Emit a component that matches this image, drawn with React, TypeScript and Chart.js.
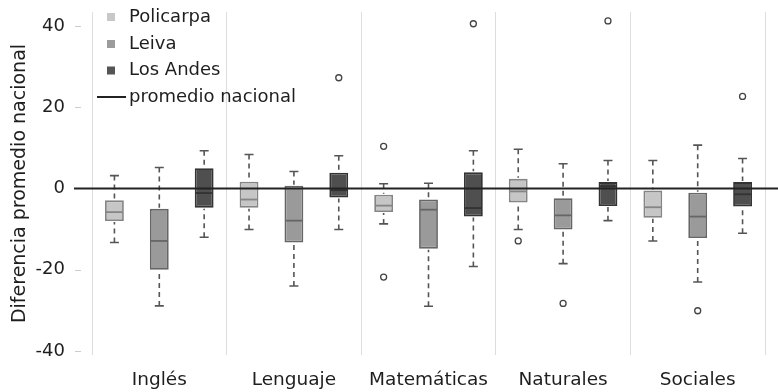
import React, { useEffect, useRef } from 'react';
import { Chart, registerables } from 'chart.js';
Chart.register(...registerables);

const categories = ['Inglés', 'Lenguaje', 'Matemáticas', 'Naturales', 'Sociales'];
const schools = ['Policarpa', 'Leiva', 'Los Andes'];
const yTickValues = [-40, -20, 0, 20, 40];

// Policarpa
const policarpaLow = [-13.3, -10.1, -8.7, -10.1, -12.9];
const policarpaQ1 = [-8.0, -4.7, -5.8, -3.4, -7.2];
const policarpaMedian = [-5.8, -2.7, -4.2, -0.7, -4.6];
const policarpaQ3 = [-2.9, 1.7, -1.5, 2.4, -0.5];
const policarpaHigh = [3.2, 8.4, 1.2, 9.7, 6.9];
const policarpaOutliers = [[], [], [10.4, -21.8], [-12.9], []];

// Leiva
const leivaLow = [-28.9, -24.0, -29.0, -18.5, -23.0];
const leivaQ1 = [-20.0, -13.3, -14.8, -10.1, -12.2];
const leivaMedian = [-12.9, -7.9, -5.2, -6.6, -6.9];
const leivaQ3 = [-5.0, 0.7, -2.7, -2.4, -1.0];
const leivaHigh = [5.2, 4.2, 1.3, 6.1, 10.7];
const leivaOutliers = [[], [], [], [-28.3], [-30.1]];

// Los Andes
const andesLow = [-12.0, -10.1, -19.2, -7.9, -11.0];
const andesQ1 = [-4.7, -2.2, -6.9, -4.3, -4.4];
const andesMedian = [-1.1, -0.4, -4.8, 0.6, -1.4];
const andesQ3 = [5.0, 3.9, 4.0, 1.6, 1.6];
const andesHigh = [9.3, 8.1, 9.3, 6.9, 7.4];
const andesOutliers = [[], [27.3], [40.6], [41.3], [22.7]];

const nationalAverage = 0;
const nationalLabel = 'promedio nacional';

const fills = ['#c6c6c6', '#9a9a9a', '#4f4f4f'];
const borders = ['#858585', '#666666', '#333333'];
const swatches = ['#c8c8c8', '#9c9c9c', '#555555'];

const stats = [
  { low: policarpaLow, q1: policarpaQ1, med: policarpaMedian, q3: policarpaQ3, high: policarpaHigh, out: policarpaOutliers },
  { low: leivaLow, q1: leivaQ1, med: leivaMedian, q3: leivaQ3, high: leivaHigh, out: leivaOutliers },
  { low: andesLow, q1: andesQ1, med: andesMedian, q3: andesQ3, high: andesHigh, out: andesOutliers },
];

const FONT = '"DejaVu Sans", sans-serif';
const TEXT = '#1e1e1e';

const boxPlugin = {
  id: 'boxExtras',
  afterDatasetsDraw(chart: any) {
    const ctx = chart.ctx;
    const y = chart.scales.y;
    const area = chart.chartArea;
    ctx.save();
    stats.forEach((s, i) => {
      const meta = chart.getDatasetMeta(i);
      meta.data.forEach((el: any, j: number) => {
        const p = el.getProps(['x', 'width'], true);
        const x = p.x;
        const half = p.width / 2;
        const yq1 = y.getPixelForValue(s.q1[j]);
        const yq3 = y.getPixelForValue(s.q3[j]);
        const ylo = y.getPixelForValue(s.low[j]);
        const yhi = y.getPixelForValue(s.high[j]);
        const ymed = y.getPixelForValue(s.med[j]);
        ctx.strokeStyle = '#555555';
        ctx.lineWidth = 1.6;
        ctx.setLineDash([5, 4]);
        ctx.beginPath();
        ctx.moveTo(x, yhi);
        ctx.lineTo(x, yq3 - 1);
        ctx.moveTo(x, ylo);
        ctx.lineTo(x, yq1 + 1);
        ctx.stroke();
        ctx.setLineDash([]);
        ctx.lineWidth = 1.6;
        ctx.beginPath();
        ctx.moveTo(x - 4.5, yhi);
        ctx.lineTo(x + 4.5, yhi);
        ctx.moveTo(x - 4.5, ylo);
        ctx.lineTo(x + 4.5, ylo);
        ctx.stroke();
        ctx.strokeStyle = borders[i];
        ctx.lineWidth = 1.8;
        ctx.beginPath();
        ctx.moveTo(x - half + 1, ymed);
        ctx.lineTo(x + half - 1, ymed);
        ctx.stroke();
        ctx.strokeStyle = '#444444';
        ctx.lineWidth = 1.3;
        s.out[j].forEach((v: number) => {
          ctx.beginPath();
          ctx.arc(x, y.getPixelForValue(v), 3, 0, Math.PI * 2);
          ctx.stroke();
        });
      });
    });
    const y0 = y.getPixelForValue(nationalAverage);
    ctx.strokeStyle = '#222222';
    ctx.lineWidth = 2;
    ctx.beginPath();
    ctx.moveTo(area.left - 18, y0);
    ctx.lineTo(chart.width, y0);
    ctx.stroke();
    ctx.restore();
  },
  afterDraw(chart: any) {
    const ctx = chart.ctx;
    const y = chart.scales.y;
    const area = chart.chartArea;
    ctx.save();
    ctx.strokeStyle = '#cccccc';
    ctx.lineWidth = 1;
    yTickValues.forEach((v) => {
      if (v === nationalAverage) return;
      const py = Math.round(y.getPixelForValue(v)) + 0.5;
      ctx.beginPath();
      ctx.moveTo(area.left - 17, py);
      ctx.lineTo(area.left - 11, py);
      ctx.stroke();
    });
    const lx = area.left + 15;
    const tx = area.left + 37;
    const rows = [17, 44, 70.5, 97];
    ctx.font = '18px ' + FONT;
    ctx.textBaseline = 'middle';
    ctx.textAlign = 'left';
    schools.forEach((name, i) => {
      ctx.fillStyle = swatches[i];
      ctx.fillRect(lx, rows[i] - 4, 8, 8);
      ctx.fillStyle = TEXT;
      ctx.fillText(name, tx, rows[i]);
    });
    ctx.strokeStyle = '#222222';
    ctx.lineWidth = 2;
    ctx.beginPath();
    ctx.moveTo(area.left + 5, rows[3]);
    ctx.lineTo(area.left + 34, rows[3]);
    ctx.stroke();
    ctx.fillStyle = TEXT;
    ctx.fillText(nationalLabel, tx, rows[3]);
    ctx.restore();
  },
};

export default function App() {
  const ref = useRef<HTMLCanvasElement>(null);
  useEffect(() => {
    if (!ref.current) return;
    const chart = new Chart(ref.current, {
      type: 'bar',
      data: {
        labels: categories,
        datasets: stats.map((s, i) => ({
          label: schools[i],
          data: s.q1.map((q, j) => [q, s.q3[j]]),
          backgroundColor: fills[i],
          borderColor: borders[i],
          borderWidth: 1.8,
          borderSkipped: false,
          barPercentage: 0.42,
          categoryPercentage: 1.0,
        })),
      },
      options: {
        responsive: false,
        animation: false,
        devicePixelRatio: 1,
        layout: { padding: { top: 12, right: 13, left: 0, bottom: 0 } },
        plugins: { legend: { display: false }, tooltip: { enabled: false } },
        scales: {
          x: {
            grid: { display: true, color: '#dddddd', lineWidth: 1, offset: true, drawTicks: false },
            border: { display: false },
            ticks: { font: { family: FONT, size: 18.5 }, color: TEXT, padding: 14 },
            afterFit: (scale: any) => { scale.height = 37; scale.paddingLeft = 0; scale.paddingRight = 0; },
          },
          y: {
            min: -41,
            max: 43.5,
            grid: { display: false, drawTicks: false },
            border: { display: false },
            afterBuildTicks: (scale: any) => { scale.ticks = yTickValues.map((v) => ({ value: v })); },
            ticks: { font: { family: FONT, size: 18 }, color: TEXT, padding: 27 },
            title: {
              display: true,
              text: 'Diferencia promedio nacional',
              font: { family: FONT, size: 19 },
              color: TEXT,
              padding: { top: 9, bottom: 0 },
            },
            afterFit: (scale: any) => { scale.width = 92; scale.paddingTop = 0; scale.paddingBottom = 0; },
          },
        },
      },
      plugins: [boxPlugin],
    });
    return () => chart.destroy();
  }, []);
  return (
    <div style={{ position: 'absolute', left: 0, top: 0, width: 778, height: 392, background: '#fff' }}>
      <canvas ref={ref} width={778} height={392} />
    </div>
  );
}
